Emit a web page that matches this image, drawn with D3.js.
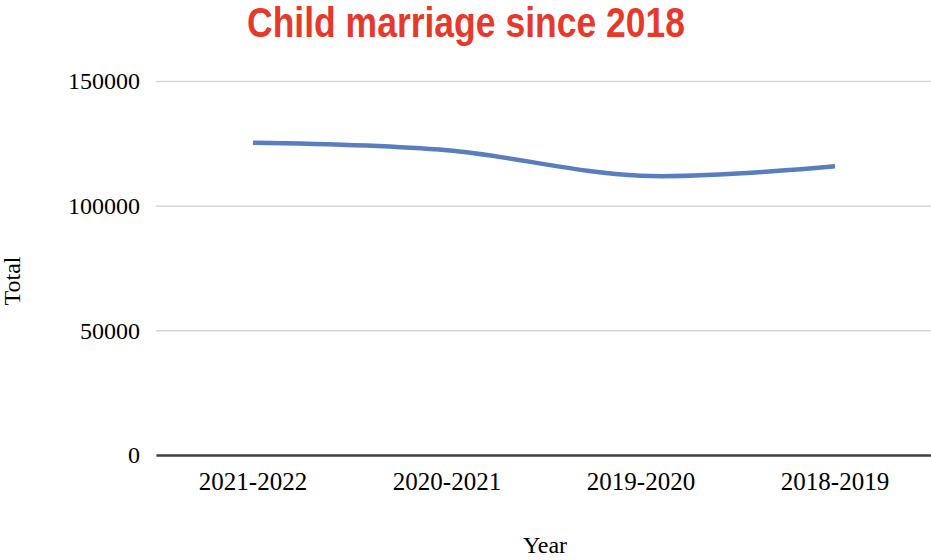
<!DOCTYPE html>
<html>
<head>
<meta charset="utf-8">
<script src="https://cdn.jsdelivr.net/npm/d3@7"></script>
<style>
  body { margin: 0; background: #fff; }
</style>
</head>
<body>
<div class="canvas"></div>
<script>
// data
const years = ['2021-2022', '2020-2021', '2019-2020', '2018-2019'];
const totals = [125200, 122200, 112000, 115800];
const yTicks = [0, 50000, 100000, 150000];

const width = 931;
const height = 560;

const svg = d3.select('.canvas')
    .append('svg')
    .attr('width', width)
    .attr('height', height);

// plot area
const plotLeft = 156, plotRight = 932, plotTop = 81, plotBottom = 455;

const x = d3.scaleBand()
    .domain(years)
    .range([plotLeft, plotRight]);

const y = d3.scaleLinear()
    .domain([0, 150000])
    .range([plotBottom, plotTop]);

// gridlines + y labels
const yAxis = d3.axisLeft(y)
    .tickValues(yTicks)
    .tickSize(-(plotRight - plotLeft))
    .tickPadding(16)
    .tickFormat(d => d);

const yAxisGroup = svg.append('g')
    .attr('transform', `translate(${plotLeft}, 0)`)
    .call(yAxis);

yAxisGroup.select('.domain').remove();
yAxisGroup.selectAll('.tick line')
    .attr('stroke', '#d6d6d6')
    .attr('stroke-width', 1.5);
yAxisGroup.selectAll('.tick text')
    .attr('font-family', '"Liberation Serif", "Times New Roman", serif')
    .attr('font-size', 24)
    .attr('fill', '#000');

// x axis (baseline + labels)
const xAxis = d3.axisBottom(x)
    .tickSize(0)
    .tickPadding(17);

const xAxisGroup = svg.append('g')
    .attr('transform', `translate(0, ${plotBottom})`)
    .call(xAxis);

xAxisGroup.select('.domain')
    .attr('stroke', '#404040')
    .attr('stroke-width', 2.5);
xAxisGroup.selectAll('.tick text')
    .attr('font-family', '"Liberation Serif", "Times New Roman", serif')
    .attr('font-size', 25)
    .attr('fill', '#000');

// smoothed line
const line = d3.line()
    .x((d, i) => x(years[i]) + x.bandwidth() / 2)
    .y(d => y(d))
    .curve(d3.curveCardinal.tension(0));

svg.append('path')
    .datum(totals)
    .attr('d', line)
    .attr('fill', 'none')
    .attr('stroke', '#5a7dbd')
    .attr('stroke-width', 4.5);

// title
svg.append('text')
    .attr('x', 466)
    .attr('y', 37)
    .attr('text-anchor', 'middle')
    .attr('font-family', '"Liberation Sans Narrow", "Arial Narrow", "Liberation Sans", Arial, sans-serif')
    .attr('font-weight', 'bold')
    .attr('font-size', 42)
    .attr('textLength', 438)
    .attr('lengthAdjust', 'spacingAndGlyphs')
    .attr('fill', '#e53a2b')
    .text('Child marriage since 2018');

// axis titles
svg.append('text')
    .attr('transform', 'translate(20, 281) rotate(-90)')
    .attr('text-anchor', 'middle')
    .attr('font-family', '"Liberation Serif", "Times New Roman", serif')
    .attr('font-size', 24)
    .attr('fill', '#000')
    .text('Total');

svg.append('text')
    .attr('x', 545)
    .attr('y', 553)
    .attr('text-anchor', 'middle')
    .attr('font-family', '"Liberation Serif", "Times New Roman", serif')
    .attr('font-size', 24)
    .attr('fill', '#000')
    .text('Year');
</script>
</body>
</html>
